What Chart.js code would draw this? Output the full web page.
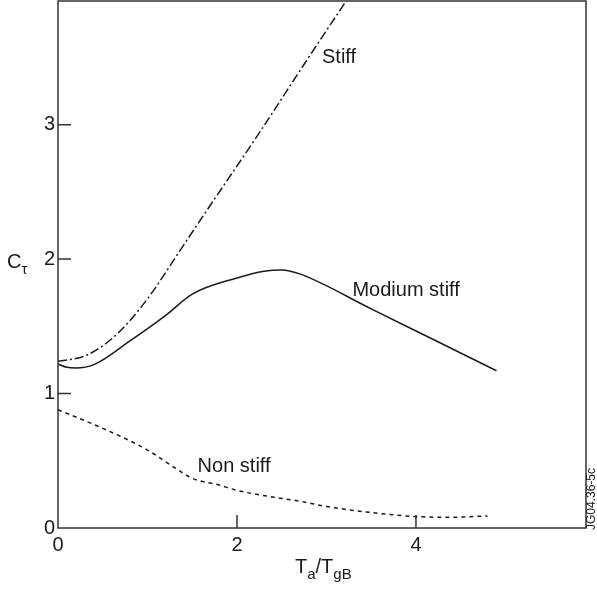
<!DOCTYPE html>
<html>
<head>
<meta charset="utf-8">
<script src="https://cdn.jsdelivr.net/npm/chart.js@4/dist/chart.umd.min.js"></script>
<style>
    body { margin: 0; background: #fff; }
    canvas { display: block; }
</style>
</head>
<body>
<canvas id="ctChart" width="597" height="592"></canvas>
<script>
/* data */
const stiffX = [0, 0.3, 0.55, 0.8, 1.06, 1.3, 1.6, 2.24, 2.8, 3.3];
const stiffY = [1.24, 1.28, 1.38, 1.54, 1.76, 2.0, 2.3, 2.93, 3.5, 4.0];

const mediumX = [0, 0.1, 0.2, 0.4, 0.8, 1.2, 1.5, 2.0, 2.3, 2.5, 2.7, 3.5, 4.2, 4.9];
const mediumY = [1.22, 1.195, 1.19, 1.215, 1.39, 1.58, 1.74, 1.86, 1.91, 1.92, 1.89, 1.63, 1.40, 1.17];

const nonStiffX = [0, 0.4, 0.8, 1.0, 1.3, 1.5, 1.8, 2.0, 2.4, 2.7, 3.0, 3.5, 4.0, 4.4, 4.8];
const nonStiffY = [0.88, 0.77, 0.65, 0.58, 0.45, 0.37, 0.32, 0.28, 0.23, 0.20, 0.16, 0.115, 0.085, 0.08, 0.09];

const xTicks = [0, 2, 4];
const yTicks = [0, 1, 2, 3];

// curve names, placed in data units
const curveLabels = [
    { text: 'Stiff', x: 2.95, y: 3.5 },
    { text: 'Modium stiff', x: 3.29, y: 1.77 },
    { text: 'Non stiff', x: 1.56, y: 0.46 }
];

const toPoints = (xs, ys) => xs.map((v, i) => ({ x: v, y: ys[i] }));

const fontFamily = '"Liberation Sans", Arial, sans-serif';
const ink = '#1a1a1a';

// draws a string with subscripts, parts = [[text, isSub], ...]
function drawParts(ctx, parts, x, y) {
    parts.forEach(([t, sub]) => {
        ctx.font = (sub ? '15px ' : '20px ') + fontFamily;
        ctx.fillText(t, x, sub ? y + 6 : y);
        x += ctx.measureText(t).width;
    });
}

const framePlugin = {
    id: 'frame',
    afterDatasetsDraw(chart) {
        const { ctx, chartArea: a, scales } = chart;
        const xs = scales.x, ys = scales.y;
        ctx.save();
        ctx.strokeStyle = '#333';
        ctx.lineWidth = 1.5;
        ctx.strokeRect(a.left, a.top, a.right - a.left, a.bottom - a.top);

        // inward tick marks
        ctx.beginPath();
        xTicks.filter(v => v > 0).forEach(v => {
            const px = xs.getPixelForValue(v);
            ctx.moveTo(px, a.bottom);
            ctx.lineTo(px, a.bottom - 13);
        });
        yTicks.filter(v => v > 0).forEach(v => {
            const py = ys.getPixelForValue(v);
            ctx.moveTo(a.left, py);
            ctx.lineTo(a.left + 13, py);
        });
        ctx.stroke();

        ctx.fillStyle = ink;
        ctx.font = '20px ' + fontFamily;
        ctx.textBaseline = 'middle';
        ctx.textAlign = 'left';
        curveLabels.forEach(l => {
            ctx.fillText(l.text, xs.getPixelForValue(l.x), ys.getPixelForValue(l.y));
        });

        // axis titles
        ctx.textBaseline = 'alphabetic';
        drawParts(ctx, [['C', false], ['τ', true]], 7, 268);
        drawParts(ctx, [['T', false], ['a', true], ['/', false], ['T', false], ['gB', true]], 295, 573);

        ctx.translate(592, 499);
        ctx.rotate(-Math.PI / 2);
        ctx.font = '12px ' + fontFamily;
        ctx.textAlign = 'center';
        ctx.textBaseline = 'middle';
        ctx.fillText('JG04.36-5c', 0, 0);
        ctx.restore();
    }
};

const ctx = document.getElementById('ctChart').getContext('2d');
const ctChart = new Chart(ctx, {
    type: 'scatter',
    data: {
        datasets: [
            {
                label: 'Stiff',
                data: toPoints(stiffX, stiffY),
                borderColor: ink,
                borderWidth: 1.5,
                borderDash: [9, 3, 2, 3]
            },
            {
                label: 'Modium stiff',
                data: toPoints(mediumX, mediumY),
                borderColor: ink,
                borderWidth: 1.5
            },
            {
                label: 'Non stiff',
                data: toPoints(nonStiffX, nonStiffY),
                borderColor: ink,
                borderWidth: 1.5,
                borderDash: [4, 4]
            }
        ]
    },
    options: {
        responsive: false,
        animation: false,
        showLine: true,
        elements: {
            point: { radius: 0 },
            line: { cubicInterpolationMode: 'monotone', fill: false }
        },
        layout: { padding: { top: 1, right: 11, left: 0, bottom: 0 } },
        plugins: {
            legend: { display: false },
            tooltip: { enabled: false }
        },
        scales: {
            x: {
                type: 'linear',
                min: 0,
                max: 5.9,
                afterBuildTicks: scale => { scale.ticks = xTicks.map(v => ({ value: v })); },
                afterFit: scale => {
                    scale.height = 64;
                    scale.paddingLeft = 0;
                    scale.paddingRight = 0;
                },
                grid: { display: false, drawTicks: false },
                border: { display: false },
                ticks: { padding: 5, color: ink, font: { family: fontFamily, size: 20 } }
            },
            y: {
                type: 'linear',
                min: 0,
                max: 3.92,
                afterBuildTicks: scale => { scale.ticks = yTicks.map(v => ({ value: v })); },
                afterFit: scale => {
                    scale.width = 58;
                    scale.paddingTop = 0;
                    scale.paddingBottom = 0;
                },
                grid: { display: false, drawTicks: false },
                border: { display: false },
                ticks: { padding: 3, color: ink, font: { family: fontFamily, size: 20 } }
            }
        }
    },
    plugins: [framePlugin]
});
</script>
</body>
</html>
